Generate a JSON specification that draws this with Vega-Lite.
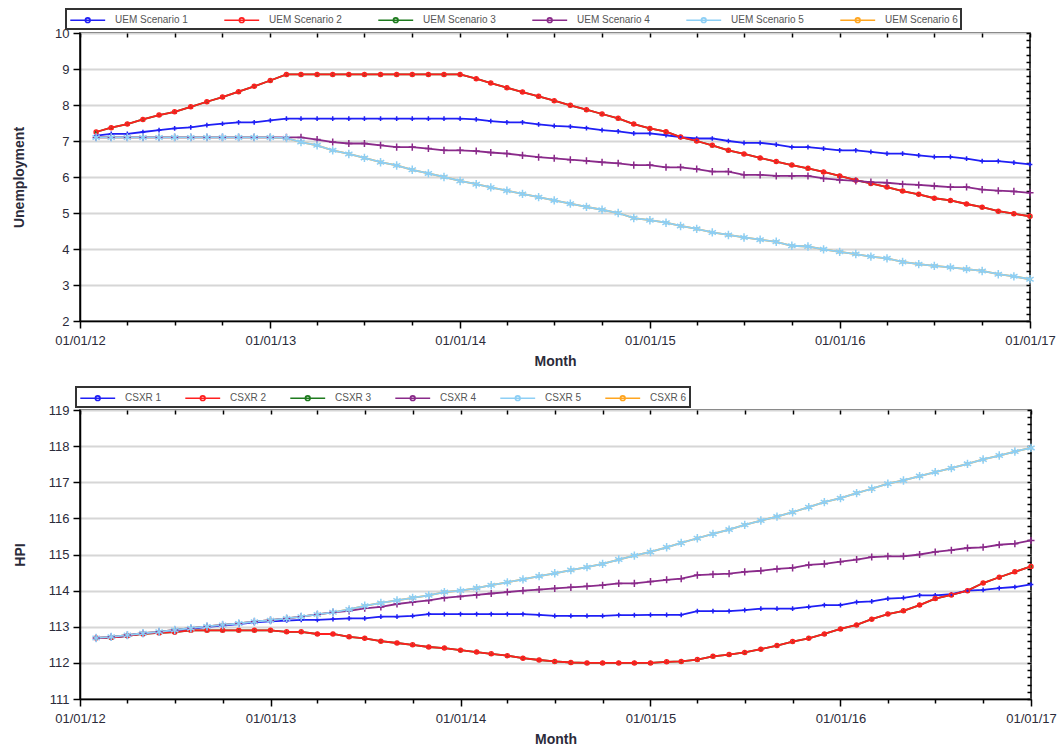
{
"$schema": "https://vega.github.io/schema/vega-lite/v6.json",
"padding": {"left": 11, "top": 7, "right": 5, "bottom": 0},
"background": "#ffffff",
"spacing": 16,
"data": {"values": [
{"d":"2012-02-01","u1":7.15,"u2":7.25,"u3":7.25,"u4":7.1,"u5":7.1,"u6":7.1,"h1":112.69,"h2":112.69,"h3":112.69,"h4":112.69,"h5":112.69,"h6":112.69},
{"d":"2012-03-01","u1":7.2,"u2":7.37,"u3":7.37,"u4":7.1,"u5":7.1,"u6":7.1,"h1":112.7,"h2":112.7,"h3":112.7,"h4":112.72,"h5":112.72,"h6":112.72},
{"d":"2012-04-01","u1":7.2,"u2":7.47,"u3":7.47,"u4":7.1,"u5":7.1,"u6":7.1,"h1":112.75,"h2":112.75,"h3":112.75,"h4":112.77,"h5":112.77,"h6":112.77},
{"d":"2012-05-01","u1":7.25,"u2":7.6,"u3":7.6,"u4":7.1,"u5":7.1,"u6":7.1,"h1":112.82,"h2":112.8,"h3":112.8,"h4":112.82,"h5":112.82,"h6":112.82},
{"d":"2012-06-01","u1":7.3,"u2":7.72,"u3":7.72,"u4":7.1,"u5":7.1,"u6":7.1,"h1":112.84,"h2":112.83,"h3":112.83,"h4":112.86,"h5":112.86,"h6":112.86},
{"d":"2012-07-01","u1":7.35,"u2":7.81,"u3":7.81,"u4":7.1,"u5":7.1,"u6":7.1,"h1":112.89,"h2":112.85,"h3":112.85,"h4":112.91,"h5":112.91,"h6":112.91},
{"d":"2012-08-01","u1":7.38,"u2":7.95,"u3":7.95,"u4":7.1,"u5":7.1,"u6":7.1,"h1":112.94,"h2":112.9,"h3":112.9,"h4":112.96,"h5":112.96,"h6":112.96},
{"d":"2012-09-01","u1":7.44,"u2":8.09,"u3":8.09,"u4":7.1,"u5":7.1,"u6":7.1,"h1":113.0,"h2":112.9,"h3":112.9,"h4":113.01,"h5":113.01,"h6":113.01},
{"d":"2012-10-01","u1":7.48,"u2":8.22,"u3":8.22,"u4":7.1,"u5":7.1,"u6":7.1,"h1":113.03,"h2":112.9,"h3":112.9,"h4":113.05,"h5":113.05,"h6":113.05},
{"d":"2012-11-01","u1":7.52,"u2":8.37,"u3":8.37,"u4":7.1,"u5":7.1,"u6":7.1,"h1":113.07,"h2":112.9,"h3":112.9,"h4":113.09,"h5":113.09,"h6":113.09},
{"d":"2012-12-01","u1":7.52,"u2":8.52,"u3":8.52,"u4":7.1,"u5":7.1,"u6":7.1,"h1":113.12,"h2":112.9,"h3":112.9,"h4":113.14,"h5":113.14,"h6":113.14},
{"d":"2013-01-01","u1":7.57,"u2":8.68,"u3":8.68,"u4":7.1,"u5":7.1,"u6":7.1,"h1":113.15,"h2":112.9,"h3":112.9,"h4":113.18,"h5":113.18,"h6":113.18},
{"d":"2013-02-01","u1":7.62,"u2":8.85,"u3":8.85,"u4":7.1,"u5":7.08,"u6":7.08,"h1":113.17,"h2":112.86,"h3":112.86,"h4":113.23,"h5":113.23,"h6":113.23},
{"d":"2013-03-01","u1":7.62,"u2":8.85,"u3":8.85,"u4":7.1,"u5":6.97,"u6":6.97,"h1":113.19,"h2":112.86,"h3":112.86,"h4":113.28,"h5":113.28,"h6":113.28},
{"d":"2013-04-01","u1":7.62,"u2":8.85,"u3":8.85,"u4":7.04,"u5":6.88,"u6":6.88,"h1":113.19,"h2":112.8,"h3":112.8,"h4":113.34,"h5":113.34,"h6":113.34},
{"d":"2013-05-01","u1":7.62,"u2":8.85,"u3":8.85,"u4":6.97,"u5":6.74,"u6":6.74,"h1":113.21,"h2":112.8,"h3":112.8,"h4":113.4,"h5":113.4,"h6":113.4},
{"d":"2013-06-01","u1":7.62,"u2":8.85,"u3":8.85,"u4":6.93,"u5":6.64,"u6":6.64,"h1":113.23,"h2":112.72,"h3":112.72,"h4":113.44,"h5":113.48,"h6":113.48},
{"d":"2013-07-01","u1":7.62,"u2":8.85,"u3":8.85,"u4":6.93,"u5":6.53,"u6":6.53,"h1":113.23,"h2":112.68,"h3":112.68,"h4":113.51,"h5":113.58,"h6":113.58},
{"d":"2013-08-01","u1":7.62,"u2":8.85,"u3":8.85,"u4":6.88,"u5":6.41,"u6":6.41,"h1":113.28,"h2":112.6,"h3":112.6,"h4":113.55,"h5":113.66,"h6":113.66},
{"d":"2013-09-01","u1":7.62,"u2":8.85,"u3":8.85,"u4":6.83,"u5":6.32,"u6":6.32,"h1":113.28,"h2":112.55,"h3":112.55,"h4":113.63,"h5":113.73,"h6":113.73},
{"d":"2013-10-01","u1":7.62,"u2":8.85,"u3":8.85,"u4":6.83,"u5":6.2,"u6":6.2,"h1":113.3,"h2":112.5,"h3":112.5,"h4":113.68,"h5":113.8,"h6":113.8},
{"d":"2013-11-01","u1":7.62,"u2":8.85,"u3":8.85,"u4":6.79,"u5":6.1,"u6":6.1,"h1":113.35,"h2":112.44,"h3":112.44,"h4":113.73,"h5":113.87,"h6":113.87},
{"d":"2013-12-01","u1":7.62,"u2":8.85,"u3":8.85,"u4":6.74,"u5":6.0,"u6":6.0,"h1":113.35,"h2":112.41,"h3":112.41,"h4":113.8,"h5":113.96,"h6":113.96},
{"d":"2014-01-01","u1":7.62,"u2":8.85,"u3":8.85,"u4":6.74,"u5":5.89,"u6":5.89,"h1":113.35,"h2":112.35,"h3":112.35,"h4":113.84,"h5":114.0,"h6":114.0},
{"d":"2014-02-01","u1":7.6,"u2":8.73,"u3":8.73,"u4":6.72,"u5":5.8,"u6":5.8,"h1":113.35,"h2":112.3,"h3":112.3,"h4":113.88,"h5":114.07,"h6":114.07},
{"d":"2014-03-01","u1":7.55,"u2":8.61,"u3":8.61,"u4":6.68,"u5":5.71,"u6":5.71,"h1":113.35,"h2":112.25,"h3":112.25,"h4":113.92,"h5":114.15,"h6":114.15},
{"d":"2014-04-01","u1":7.52,"u2":8.48,"u3":8.48,"u4":6.65,"u5":5.62,"u6":5.62,"h1":113.35,"h2":112.2,"h3":112.2,"h4":113.96,"h5":114.23,"h6":114.23},
{"d":"2014-05-01","u1":7.52,"u2":8.36,"u3":8.36,"u4":6.6,"u5":5.53,"u6":5.53,"h1":113.35,"h2":112.13,"h3":112.13,"h4":114.0,"h5":114.31,"h6":114.31},
{"d":"2014-06-01","u1":7.46,"u2":8.24,"u3":8.24,"u4":6.55,"u5":5.44,"u6":5.44,"h1":113.33,"h2":112.08,"h3":112.08,"h4":114.03,"h5":114.4,"h6":114.4},
{"d":"2014-07-01","u1":7.42,"u2":8.12,"u3":8.12,"u4":6.52,"u5":5.35,"u6":5.35,"h1":113.3,"h2":112.04,"h3":112.04,"h4":114.06,"h5":114.48,"h6":114.48},
{"d":"2014-08-01","u1":7.4,"u2":7.99,"u3":7.99,"u4":6.48,"u5":5.26,"u6":5.26,"h1":113.3,"h2":112.01,"h3":112.01,"h4":114.09,"h5":114.57,"h6":114.57},
{"d":"2014-09-01","u1":7.36,"u2":7.87,"u3":7.87,"u4":6.45,"u5":5.17,"u6":5.17,"h1":113.3,"h2":112.0,"h3":112.0,"h4":114.12,"h5":114.65,"h6":114.65},
{"d":"2014-10-01","u1":7.3,"u2":7.75,"u3":7.75,"u4":6.41,"u5":5.09,"u6":5.09,"h1":113.3,"h2":112.0,"h3":112.0,"h4":114.15,"h5":114.74,"h6":114.74},
{"d":"2014-11-01","u1":7.27,"u2":7.63,"u3":7.63,"u4":6.38,"u5":5.0,"u6":5.0,"h1":113.32,"h2":112.0,"h3":112.0,"h4":114.2,"h5":114.86,"h6":114.86},
{"d":"2014-12-01","u1":7.21,"u2":7.47,"u3":7.47,"u4":6.33,"u5":4.86,"u6":4.86,"h1":113.32,"h2":112.0,"h3":112.0,"h4":114.2,"h5":114.97,"h6":114.97},
{"d":"2015-01-01","u1":7.21,"u2":7.35,"u3":7.35,"u4":6.33,"u5":4.8,"u6":4.8,"h1":113.33,"h2":112.0,"h3":112.0,"h4":114.25,"h5":115.07,"h6":115.07},
{"d":"2015-02-01","u1":7.16,"u2":7.26,"u3":7.26,"u4":6.27,"u5":4.73,"u6":4.73,"h1":113.33,"h2":112.03,"h3":112.03,"h4":114.3,"h5":115.2,"h6":115.2},
{"d":"2015-03-01","u1":7.11,"u2":7.11,"u3":7.11,"u4":6.27,"u5":4.64,"u6":4.64,"h1":113.33,"h2":112.04,"h3":112.04,"h4":114.33,"h5":115.32,"h6":115.32},
{"d":"2015-04-01","u1":7.07,"u2":7.0,"u3":7.0,"u4":6.22,"u5":4.56,"u6":4.56,"h1":113.43,"h2":112.09,"h3":112.09,"h4":114.43,"h5":115.45,"h6":115.45},
{"d":"2015-05-01","u1":7.07,"u2":6.88,"u3":6.88,"u4":6.15,"u5":4.46,"u6":4.46,"h1":113.43,"h2":112.18,"h3":112.18,"h4":114.45,"h5":115.57,"h6":115.57},
{"d":"2015-06-01","u1":7.0,"u2":6.74,"u3":6.74,"u4":6.15,"u5":4.39,"u6":4.39,"h1":113.43,"h2":112.23,"h3":112.23,"h4":114.47,"h5":115.69,"h6":115.69},
{"d":"2015-07-01","u1":6.95,"u2":6.64,"u3":6.64,"u4":6.06,"u5":4.32,"u6":4.32,"h1":113.46,"h2":112.29,"h3":112.29,"h4":114.52,"h5":115.82,"h6":115.82},
{"d":"2015-08-01","u1":6.95,"u2":6.53,"u3":6.53,"u4":6.06,"u5":4.26,"u6":4.26,"h1":113.5,"h2":112.38,"h3":112.38,"h4":114.55,"h5":115.94,"h6":115.94},
{"d":"2015-09-01","u1":6.9,"u2":6.43,"u3":6.43,"u4":6.03,"u5":4.2,"u6":4.2,"h1":113.5,"h2":112.48,"h3":112.48,"h4":114.6,"h5":116.05,"h6":116.05},
{"d":"2015-10-01","u1":6.83,"u2":6.33,"u3":6.33,"u4":6.03,"u5":4.09,"u6":4.09,"h1":113.5,"h2":112.59,"h3":112.59,"h4":114.63,"h5":116.17,"h6":116.17},
{"d":"2015-11-01","u1":6.83,"u2":6.24,"u3":6.24,"u4":6.03,"u5":4.07,"u6":4.07,"h1":113.55,"h2":112.68,"h3":112.68,"h4":114.71,"h5":116.31,"h6":116.31},
{"d":"2015-12-01","u1":6.79,"u2":6.14,"u3":6.14,"u4":5.96,"u5":3.99,"u6":3.99,"h1":113.6,"h2":112.8,"h3":112.8,"h4":114.74,"h5":116.45,"h6":116.45},
{"d":"2016-01-01","u1":6.74,"u2":6.03,"u3":6.03,"u4":5.92,"u5":3.92,"u6":3.92,"h1":113.6,"h2":112.94,"h3":112.94,"h4":114.8,"h5":116.56,"h6":116.56},
{"d":"2016-02-01","u1":6.74,"u2":5.91,"u3":5.91,"u4":5.89,"u5":3.86,"u6":3.86,"h1":113.68,"h2":113.05,"h3":113.05,"h4":114.86,"h5":116.7,"h6":116.7},
{"d":"2016-03-01","u1":6.7,"u2":5.82,"u3":5.82,"u4":5.86,"u5":3.79,"u6":3.79,"h1":113.7,"h2":113.21,"h3":113.21,"h4":114.93,"h5":116.82,"h6":116.82},
{"d":"2016-04-01","u1":6.65,"u2":5.72,"u3":5.72,"u4":5.84,"u5":3.74,"u6":3.74,"h1":113.78,"h2":113.35,"h3":113.35,"h4":114.95,"h5":116.96,"h6":116.96},
{"d":"2016-05-01","u1":6.65,"u2":5.61,"u3":5.61,"u4":5.8,"u5":3.64,"u6":3.64,"h1":113.8,"h2":113.44,"h3":113.44,"h4":114.95,"h5":117.05,"h6":117.05},
{"d":"2016-06-01","u1":6.6,"u2":5.52,"u3":5.52,"u4":5.78,"u5":3.58,"u6":3.58,"h1":113.87,"h2":113.6,"h3":113.6,"h4":115.0,"h5":117.17,"h6":117.17},
{"d":"2016-07-01","u1":6.56,"u2":5.41,"u3":5.41,"u4":5.75,"u5":3.53,"u6":3.53,"h1":113.87,"h2":113.78,"h3":113.78,"h4":115.07,"h5":117.28,"h6":117.28},
{"d":"2016-08-01","u1":6.56,"u2":5.35,"u3":5.35,"u4":5.72,"u5":3.49,"u6":3.49,"h1":113.9,"h2":113.88,"h3":113.88,"h4":115.12,"h5":117.39,"h6":117.39},
{"d":"2016-09-01","u1":6.51,"u2":5.25,"u3":5.25,"u4":5.72,"u5":3.44,"u6":3.44,"h1":114.0,"h2":114.0,"h3":114.0,"h4":115.18,"h5":117.51,"h6":117.51},
{"d":"2016-10-01","u1":6.44,"u2":5.16,"u3":5.16,"u4":5.65,"u5":3.39,"u6":3.39,"h1":114.02,"h2":114.21,"h3":114.21,"h4":115.2,"h5":117.63,"h6":117.63},
{"d":"2016-11-01","u1":6.44,"u2":5.05,"u3":5.05,"u4":5.62,"u5":3.3,"u6":3.3,"h1":114.07,"h2":114.37,"h3":114.37,"h4":115.27,"h5":117.74,"h6":117.74},
{"d":"2016-12-01","u1":6.4,"u2":4.98,"u3":4.98,"u4":5.6,"u5":3.24,"u6":3.24,"h1":114.1,"h2":114.52,"h3":114.52,"h4":115.3,"h5":117.85,"h6":117.85},
{"d":"2017-01-01","u1":6.35,"u2":4.91,"u3":4.91,"u4":5.56,"u5":3.16,"u6":3.16,"h1":114.17,"h2":114.67,"h3":114.67,"h4":115.39,"h5":117.95,"h6":117.95}
]},
"resolve": {"scale": {"color": "independent"}, "legend": {"color": "independent"}},
"vconcat": [
{
 "width": 950, "height": 288,
 "transform": [{"fold": ["u1","u2","u3","u4","u5","u6"], "as": ["s","v"]}],
 "encoding": {
  "color": {"field": "s", "type": "nominal",
   "scale": {"domain": ["u1","u2","u3","u4","u5","u6"], "range": ["#1f1ff5","#ff1f1f","#1e7b1e","#8a2a8a","#8dcff5","#ffa51f"]},
   "legend": {"orient": "none", "legendX": -14, "legendY": -24, "direction": "horizontal", "columns": 6, "title": null,
     "labelExpr": "'UEM Scenario ' + substring(datum.label, 1)", "columnPadding": 33, "labelOffset": 30,
     "symbolType": "M-1,0L4.2,0M1.95,0A0.35,0.35,0,1,1,1.25,0A0.35,0.35,0,1,1,1.95,0", "symbolSize": 180, "symbolStrokeWidth": 1.6}}
 },
 "resolve": {"axis": {"x": "independent", "y": "independent"}},
 "layer": [
  {"transform": [{"filter": "indexof(['u3','u6'], datum.s) >= 0"}],
   "mark": {"type": "line", "strokeWidth": 1.8},
   "encoding": {
    "x": {"field": "d", "type": "temporal", "title": "Month",
     "scale": {"type": "utc", "domain": [{"year": 2012, "month": 1, "date": 1, "utc": true}, {"year": 2017, "month": 1, "date": 1, "utc": true}]},
     "axis": {"tickCount": {"interval": "month", "step": 3}, "labelExpr": "utcmonth(datum.value) === 0 ? utcFormat(datum.value, '%m/%d/%y') : ''",
      "tickSize": {"condition": {"test": "utcmonth(datum.value) === 0", "value": 7}, "value": 4},
      "labelFlush": false, "labelOverlap": false, "labelPadding": 6, "titlePadding": 7, "grid": false}},
    "y": {"field": "v", "type": "quantitative", "title": "Unemployment",
     "scale": {"domain": [2, 10], "nice": false, "zero": false},
     "axis": {"tickCount": 40, "format": "d", "labelExpr": "datum.value % 1 === 0 ? datum.label : ''",
      "tickSize": {"condition": {"test": "datum.value % 1 === 0", "value": 7}, "value": 4},
      "grid": true, "gridColor": {"condition": {"test": "datum.value % 1 === 0", "value": "#d6d6d6"}, "value": "rgba(0,0,0,0)"}, "gridWidth": 2,
      "labelOverlap": false, "labelPadding": 4, "titlePadding": 28}}
   }},
  {"transform": [{"filter": "indexof(['u3','u6'], datum.s) >= 0"}],
   "mark": {"type": "point", "filled": false, "strokeWidth": 1.5, "opacity": 1},
   "encoding": {
    "x": {"field": "d", "type": "temporal", "scale": {"type": "utc", "domain": [{"year": 2012, "month": 1, "date": 1, "utc": true}, {"year": 2017, "month": 1, "date": 1, "utc": true}]}, "axis": null},
    "y": {"field": "v", "type": "quantitative", "scale": {"domain": [2, 10], "nice": false, "zero": false}, "axis": null},
    "shape": {"condition": [{"test": "indexof(['u2','h2','u6','h6'], datum.s) >= 0", "value": "circle"}, {"test": "indexof(['u3','h3'], datum.s) >= 0", "value": "triangle-up"}, {"test": "indexof(['u5','h5'], datum.s) >= 0", "value": "M0,-1L0,1M-0.87,-0.5L0.87,0.5M-0.87,0.5L0.87,-0.5"}], "value": "M0,-1L0,1M-1,0L1,0"},
    "size": {"condition": [{"test": "indexof(['u3','h3','u6','h6'], datum.s) >= 0", "value": 6}, {"test": "indexof(['u2','h2'], datum.s) >= 0", "value": 16}, {"test": "indexof(['u4','h4'], datum.s) >= 0", "value": 50}, {"test": "indexof(['u5','h5'], datum.s) >= 0", "value": 70}], "value": 22}
   }},
  {"transform": [{"filter": "indexof(['u3','u6'], datum.s) < 0"}],
   "mark": {"type": "line", "strokeWidth": 1.8},
   "encoding": {
    "x": {"field": "d", "type": "temporal", "scale": {"type": "utc", "domain": [{"year": 2012, "month": 1, "date": 1, "utc": true}, {"year": 2017, "month": 1, "date": 1, "utc": true}]},
     "axis": {"orient": "top", "tickCount": {"interval": "month", "step": 3}, "labels": false, "title": null, "domain": false, "grid": false, "tickSize": -4}},
    "y": {"field": "v", "type": "quantitative", "scale": {"domain": [2, 10], "nice": false, "zero": false},
     "axis": {"orient": "right", "tickCount": 40, "labels": false, "title": null, "domain": false, "grid": false, "tickSize": -4}}
   }},
  {"transform": [{"filter": "indexof(['u3','u6'], datum.s) < 0"}],
   "mark": {"type": "point", "filled": false, "strokeWidth": 1.5, "opacity": 1},
   "encoding": {
    "x": {"field": "d", "type": "temporal", "scale": {"type": "utc", "domain": [{"year": 2012, "month": 1, "date": 1, "utc": true}, {"year": 2017, "month": 1, "date": 1, "utc": true}]}, "axis": null},
    "y": {"field": "v", "type": "quantitative", "scale": {"domain": [2, 10], "nice": false, "zero": false}, "axis": null},
    "shape": {"condition": [{"test": "indexof(['u2','h2','u6','h6'], datum.s) >= 0", "value": "circle"}, {"test": "indexof(['u3','h3'], datum.s) >= 0", "value": "triangle-up"}, {"test": "indexof(['u5','h5'], datum.s) >= 0", "value": "M0,-1L0,1M-0.87,-0.5L0.87,0.5M-0.87,0.5L0.87,-0.5"}], "value": "M0,-1L0,1M-1,0L1,0"},
    "size": {"condition": [{"test": "indexof(['u3','h3','u6','h6'], datum.s) >= 0", "value": 6}, {"test": "indexof(['u2','h2'], datum.s) >= 0", "value": 16}, {"test": "indexof(['u4','h4'], datum.s) >= 0", "value": 50}, {"test": "indexof(['u5','h5'], datum.s) >= 0", "value": 70}], "value": 22}
   }}
 ]
},
{
 "width": 951, "height": 289,
 "transform": [{"fold": ["h1","h2","h3","h4","h5","h6"], "as": ["s","v"]}],
 "encoding": {
  "color": {"field": "s", "type": "nominal",
   "scale": {"domain": ["h1","h2","h3","h4","h5","h6"], "range": ["#1f1ff5","#ff1f1f","#1e7b1e","#8a2a8a","#8dcff5","#ffa51f"]},
   "legend": {"orient": "none", "legendX": -4, "legendY": -23, "direction": "horizontal", "columns": 6, "title": null,
     "labelExpr": "'CSXR ' + substring(datum.label, 1)", "columnPadding": 20, "labelOffset": 30,
     "symbolType": "M-1,0L4.2,0M1.95,0A0.35,0.35,0,1,1,1.25,0A0.35,0.35,0,1,1,1.95,0", "symbolSize": 180, "symbolStrokeWidth": 1.6}}
 },
 "resolve": {"axis": {"x": "independent", "y": "independent"}},
 "layer": [
  {"transform": [{"filter": "indexof(['h3','h6'], datum.s) >= 0"}],
   "mark": {"type": "line", "strokeWidth": 1.8},
   "encoding": {
    "x": {"field": "d", "type": "temporal", "title": "Month",
     "scale": {"type": "utc", "domain": [{"year": 2012, "month": 1, "date": 1, "utc": true}, {"year": 2017, "month": 1, "date": 1, "utc": true}]},
     "axis": {"tickCount": {"interval": "month", "step": 3}, "labelExpr": "utcmonth(datum.value) === 0 ? utcFormat(datum.value, '%m/%d/%y') : ''",
      "tickSize": {"condition": {"test": "utcmonth(datum.value) === 0", "value": 7}, "value": 4},
      "labelFlush": false, "labelOverlap": false, "labelPadding": 6, "titlePadding": 7, "grid": false}},
    "y": {"field": "v", "type": "quantitative", "title": "HPI",
     "scale": {"domain": [111, 119], "nice": false, "zero": false},
     "axis": {"tickCount": 40, "format": "d", "labelExpr": "datum.value % 1 === 0 ? datum.label : ''",
      "tickSize": {"condition": {"test": "datum.value % 1 === 0", "value": 7}, "value": 4},
      "grid": true, "gridColor": {"condition": {"test": "datum.value % 1 === 0", "value": "#d6d6d6"}, "value": "rgba(0,0,0,0)"}, "gridWidth": 2,
      "labelOverlap": false, "labelPadding": 4, "titlePadding": 21}}
   }},
  {"transform": [{"filter": "indexof(['h3','h6'], datum.s) >= 0"}],
   "mark": {"type": "point", "filled": false, "strokeWidth": 1.5, "opacity": 1},
   "encoding": {
    "x": {"field": "d", "type": "temporal", "scale": {"type": "utc", "domain": [{"year": 2012, "month": 1, "date": 1, "utc": true}, {"year": 2017, "month": 1, "date": 1, "utc": true}]}, "axis": null},
    "y": {"field": "v", "type": "quantitative", "scale": {"domain": [111, 119], "nice": false, "zero": false}, "axis": null},
    "shape": {"condition": [{"test": "indexof(['u2','h2','u6','h6'], datum.s) >= 0", "value": "circle"}, {"test": "indexof(['u3','h3'], datum.s) >= 0", "value": "triangle-up"}, {"test": "indexof(['u5','h5'], datum.s) >= 0", "value": "M0,-1L0,1M-0.87,-0.5L0.87,0.5M-0.87,0.5L0.87,-0.5"}], "value": "M0,-1L0,1M-1,0L1,0"},
    "size": {"condition": [{"test": "indexof(['u3','h3','u6','h6'], datum.s) >= 0", "value": 6}, {"test": "indexof(['u2','h2'], datum.s) >= 0", "value": 16}, {"test": "indexof(['u4','h4'], datum.s) >= 0", "value": 50}, {"test": "indexof(['u5','h5'], datum.s) >= 0", "value": 70}], "value": 22}
   }},
  {"transform": [{"filter": "indexof(['h3','h6'], datum.s) < 0"}],
   "mark": {"type": "line", "strokeWidth": 1.8},
   "encoding": {
    "x": {"field": "d", "type": "temporal", "scale": {"type": "utc", "domain": [{"year": 2012, "month": 1, "date": 1, "utc": true}, {"year": 2017, "month": 1, "date": 1, "utc": true}]},
     "axis": {"orient": "top", "tickCount": {"interval": "month", "step": 3}, "labels": false, "title": null, "domain": false, "grid": false, "tickSize": -4}},
    "y": {"field": "v", "type": "quantitative", "scale": {"domain": [111, 119], "nice": false, "zero": false},
     "axis": {"orient": "right", "tickCount": 40, "labels": false, "title": null, "domain": false, "grid": false, "tickSize": -4}}
   }},
  {"transform": [{"filter": "indexof(['h3','h6'], datum.s) < 0"}],
   "mark": {"type": "point", "filled": false, "strokeWidth": 1.5, "opacity": 1},
   "encoding": {
    "x": {"field": "d", "type": "temporal", "scale": {"type": "utc", "domain": [{"year": 2012, "month": 1, "date": 1, "utc": true}, {"year": 2017, "month": 1, "date": 1, "utc": true}]}, "axis": null},
    "y": {"field": "v", "type": "quantitative", "scale": {"domain": [111, 119], "nice": false, "zero": false}, "axis": null},
    "shape": {"condition": [{"test": "indexof(['u2','h2','u6','h6'], datum.s) >= 0", "value": "circle"}, {"test": "indexof(['u3','h3'], datum.s) >= 0", "value": "triangle-up"}, {"test": "indexof(['u5','h5'], datum.s) >= 0", "value": "M0,-1L0,1M-0.87,-0.5L0.87,0.5M-0.87,0.5L0.87,-0.5"}], "value": "M0,-1L0,1M-1,0L1,0"},
    "size": {"condition": [{"test": "indexof(['u3','h3','u6','h6'], datum.s) >= 0", "value": 6}, {"test": "indexof(['u2','h2'], datum.s) >= 0", "value": 16}, {"test": "indexof(['u4','h4'], datum.s) >= 0", "value": 50}, {"test": "indexof(['u5','h5'], datum.s) >= 0", "value": 70}], "value": 22}
   }}
 ]
}
],
"config": {
 "font": "Liberation Sans",
 "view": {"stroke": "#000000", "strokeWidth": 1.5},
 "axis": {"labelFont": "Liberation Sans", "labelFontSize": 13, "labelColor": "#2b2b3a", "titleFont": "Liberation Sans", "titleFontSize": 14, "titleFontWeight": "bold", "titleColor": "#2b2b3a", "domainColor": "#000000", "domainWidth": 1.5, "tickColor": "#000000", "tickWidth": 1.5},
 "legend": {"labelFont": "Liberation Sans", "labelFontSize": 10, "labelColor": "#555555", "strokeColor": "#333333", "strokeWidth": 2, "fillColor": "#ffffff", "padding": 3}
}
}
